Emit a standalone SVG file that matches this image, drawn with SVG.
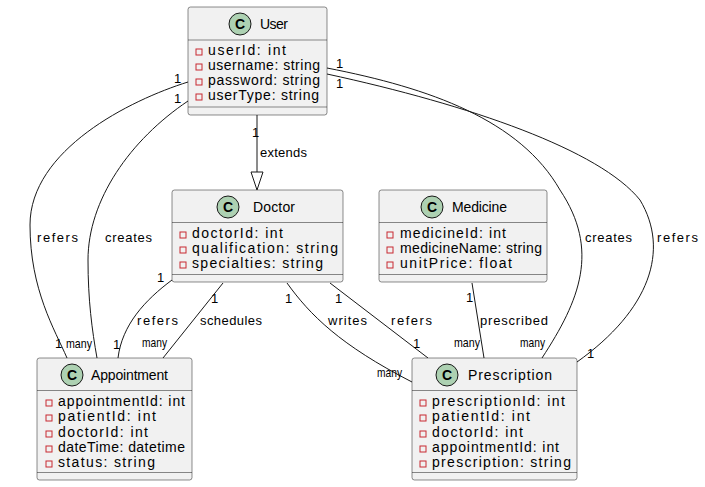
<svg xmlns="http://www.w3.org/2000/svg" width="705" height="487" viewBox="0 0 705 487">
<style>
.box{fill:#F1F1F1;stroke:#181818;stroke-width:0.5}
.sep{stroke:#181818;stroke-width:0.5}
.circ{fill:#ADD1B2;stroke:#181818;stroke-width:1}
.cl{font-family:"Liberation Sans",Arial,sans-serif;font-size:14px;font-weight:bold;fill:#000;text-anchor:middle}
.hd{font-family:"Liberation Sans",Arial,sans-serif;font-size:14px;fill:#000}
.at{font-family:"Liberation Sans",Arial,sans-serif;font-size:14px;fill:#000}
.ic{fill:none;stroke:#C82930;stroke-width:1}
.ln{fill:none;stroke:#181818;stroke-width:1}
.lb{font-family:"Liberation Sans",Arial,sans-serif;font-size:13px;fill:#000}
.mn{font-family:"Liberation Sans",Arial,sans-serif;font-size:13px;fill:#000}
</style>
<g id="connectors">
<path class="ln" d="M257,115 L257,172"/>
<polygon points="251,172 263,172 257,190" fill="none" stroke="#181818" stroke-width="1"/>
<text class="lb" x="252" y="137">1</text>
<text class="lb" x="260" y="157" textLength="47" lengthAdjust="spacing">extends</text>

<path class="ln" d="M188,82 C130,100 30,150 30,225 C30,290 55,330 67,358"/>
<text class="lb" x="174" y="83">1</text>
<text class="lb" x="37" y="242" textLength="41" lengthAdjust="spacing">refers</text>
<text class="lb" x="55" y="348">1</text>

<path class="ln" d="M188,101 C130,140 88,200 88,260 C88,300 92,330 97,358"/>
<text class="lb" x="174" y="103">1</text>
<text class="lb" x="105" y="242" textLength="47" lengthAdjust="spacing">creates</text>
<text class="mn" x="66" y="348" textLength="26" lengthAdjust="spacingAndGlyphs">many</text>

<path class="ln" d="M172,280 C145,300 122,325 118,358"/>
<text class="lb" x="157" y="282">1</text>
<text class="lb" x="137" y="325" textLength="41" lengthAdjust="spacing">refers</text>
<text class="lb" x="113" y="349">1</text>

<path class="ln" d="M223,283 L163,358"/>
<text class="lb" x="211" y="303">1</text>
<text class="lb" x="200" y="325" textLength="62" lengthAdjust="spacing">schedules</text>
<text class="mn" x="142" y="347" textLength="25" lengthAdjust="spacingAndGlyphs">many</text>

<path class="ln" d="M287,283 C310,315 340,345 412,382"/>
<text class="lb" x="285" y="303">1</text>
<text class="lb" x="328" y="325" textLength="39" lengthAdjust="spacing">writes</text>
<text class="mn" x="377" y="377" textLength="25" lengthAdjust="spacingAndGlyphs">many</text>

<path class="ln" d="M330,283 L428,358"/>
<text class="lb" x="335" y="303">1</text>
<text class="lb" x="391" y="325" textLength="41" lengthAdjust="spacing">refers</text>
<text class="lb" x="413" y="348">1</text>

<path class="ln" d="M472,283 L484,358"/>
<text class="lb" x="466" y="302">1</text>
<text class="lb" x="480" y="325" textLength="68" lengthAdjust="spacing">prescribed</text>
<text class="mn" x="454" y="347" textLength="26" lengthAdjust="spacingAndGlyphs">many</text>

<path class="ln" d="M327,68 C430,88 520,120 560,190 C600,250 580,300 542,358"/>
<text class="lb" x="336" y="68">1</text>
<text class="lb" x="585" y="242" textLength="47" lengthAdjust="spacing">creates</text>
<text class="mn" x="520" y="347" textLength="25" lengthAdjust="spacingAndGlyphs">many</text>

<path class="ln" d="M327,74 C470,105 600,150 640,200 C670,250 650,310 577,362"/>
<text class="lb" x="336" y="88">1</text>
<text class="lb" x="657" y="242" textLength="41" lengthAdjust="spacing">refers</text>
<text class="lb" x="587" y="358">1</text>
</g>

<g id="User">
<rect class="box" x="188" y="7" width="139" height="108" rx="2.5"/>
<line class="sep" x1="188" y1="40" x2="327" y2="40"/>
<line class="sep" x1="188" y1="107" x2="327" y2="107"/>
<circle class="circ" cx="240" cy="24" r="11"/>
<text class="cl" x="240" y="29">C</text>
<text class="hd" x="260" y="29" textLength="28" lengthAdjust="spacing">User</text>
<rect class="ic" x="196" y="49" width="6" height="6"/>
<text class="at" x="208" y="55" textLength="78" lengthAdjust="spacing">userId: int</text>
<rect class="ic" x="196" y="64" width="6" height="6"/>
<text class="at" x="208" y="70" textLength="112" lengthAdjust="spacing">username: string</text>
<rect class="ic" x="196" y="79" width="6" height="6"/>
<text class="at" x="208" y="85" textLength="112" lengthAdjust="spacing">password: string</text>
<rect class="ic" x="196" y="94" width="6" height="6"/>
<text class="at" x="208" y="100" textLength="111" lengthAdjust="spacing">userType: string</text>
</g>

<g id="Doctor">
<rect class="box" x="172" y="190" width="171" height="92" rx="2.5"/>
<line class="sep" x1="172" y1="222.5" x2="343" y2="222.5"/>
<line class="sep" x1="172" y1="274.5" x2="343" y2="274.5"/>
<circle class="circ" cx="228" cy="207" r="11"/>
<text class="cl" x="228" y="212">C</text>
<text class="hd" x="253" y="212" textLength="42" lengthAdjust="spacing">Doctor</text>
<rect class="ic" x="180" y="232" width="6" height="6"/>
<text class="at" x="192" y="238" textLength="91" lengthAdjust="spacing">doctorId: int</text>
<rect class="ic" x="180" y="247" width="6" height="6"/>
<text class="at" x="192" y="253" textLength="146" lengthAdjust="spacing">qualification: string</text>
<rect class="ic" x="180" y="262" width="6" height="6"/>
<text class="at" x="192" y="268" textLength="131" lengthAdjust="spacing">specialties: string</text>
</g>

<g id="Medicine">
<rect class="box" x="379" y="190" width="168" height="92" rx="2.5"/>
<line class="sep" x1="379" y1="222.5" x2="547" y2="222.5"/>
<line class="sep" x1="379" y1="274.5" x2="547" y2="274.5"/>
<circle class="circ" cx="432" cy="207" r="11"/>
<text class="cl" x="432" y="212">C</text>
<text class="hd" x="452" y="212" textLength="55" lengthAdjust="spacing">Medicine</text>
<rect class="ic" x="387" y="232" width="6" height="6"/>
<text class="at" x="400" y="238" textLength="106" lengthAdjust="spacing">medicineId: int</text>
<rect class="ic" x="387" y="247" width="6" height="6"/>
<text class="at" x="400" y="253" textLength="142" lengthAdjust="spacing">medicineName: string</text>
<rect class="ic" x="387" y="262" width="6" height="6"/>
<text class="at" x="400" y="268" textLength="112" lengthAdjust="spacing">unitPrice: float</text>
</g>

<g id="Appointment">
<rect class="box" x="37" y="358" width="155" height="122" rx="2.5"/>
<line class="sep" x1="37" y1="390.5" x2="192" y2="390.5"/>
<line class="sep" x1="37" y1="472.5" x2="192" y2="472.5"/>
<circle class="circ" cx="72" cy="375" r="11"/>
<text class="cl" x="72" y="380">C</text>
<text class="hd" x="91" y="380" textLength="77" lengthAdjust="spacing">Appointment</text>
<rect class="ic" x="46" y="400" width="6" height="6"/>
<text class="at" x="58" y="406" textLength="127" lengthAdjust="spacing">appointmentId: int</text>
<rect class="ic" x="46" y="415" width="6" height="6"/>
<text class="at" x="58" y="421" textLength="98" lengthAdjust="spacing">patientId: int</text>
<rect class="ic" x="46" y="431" width="6" height="6"/>
<text class="at" x="58" y="437" textLength="90" lengthAdjust="spacing">doctorId: int</text>
<rect class="ic" x="46" y="446" width="6" height="6"/>
<text class="at" x="58" y="452" textLength="127" lengthAdjust="spacing">dateTime: datetime</text>
<rect class="ic" x="46" y="461" width="6" height="6"/>
<text class="at" x="58" y="467" textLength="97" lengthAdjust="spacing">status: string</text>
</g>

<g id="Prescription">
<rect class="box" x="412" y="358" width="165" height="122" rx="2.5"/>
<line class="sep" x1="412" y1="390.5" x2="577" y2="390.5"/>
<line class="sep" x1="412" y1="472.5" x2="577" y2="472.5"/>
<circle class="circ" cx="447" cy="375" r="11"/>
<text class="cl" x="447" y="380">C</text>
<text class="hd" x="468" y="380" textLength="84" lengthAdjust="spacing">Prescription</text>
<rect class="ic" x="420" y="400" width="6" height="6"/>
<text class="at" x="432" y="406" textLength="133" lengthAdjust="spacing">prescriptionId: int</text>
<rect class="ic" x="420" y="415" width="6" height="6"/>
<text class="at" x="432" y="421" textLength="98" lengthAdjust="spacing">patientId: int</text>
<rect class="ic" x="420" y="431" width="6" height="6"/>
<text class="at" x="432" y="437" textLength="91" lengthAdjust="spacing">doctorId: int</text>
<rect class="ic" x="420" y="446" width="6" height="6"/>
<text class="at" x="432" y="452" textLength="127" lengthAdjust="spacing">appointmentId: int</text>
<rect class="ic" x="420" y="461" width="6" height="6"/>
<text class="at" x="432" y="467" textLength="139" lengthAdjust="spacing">prescription: string</text>
</g>
</svg>
